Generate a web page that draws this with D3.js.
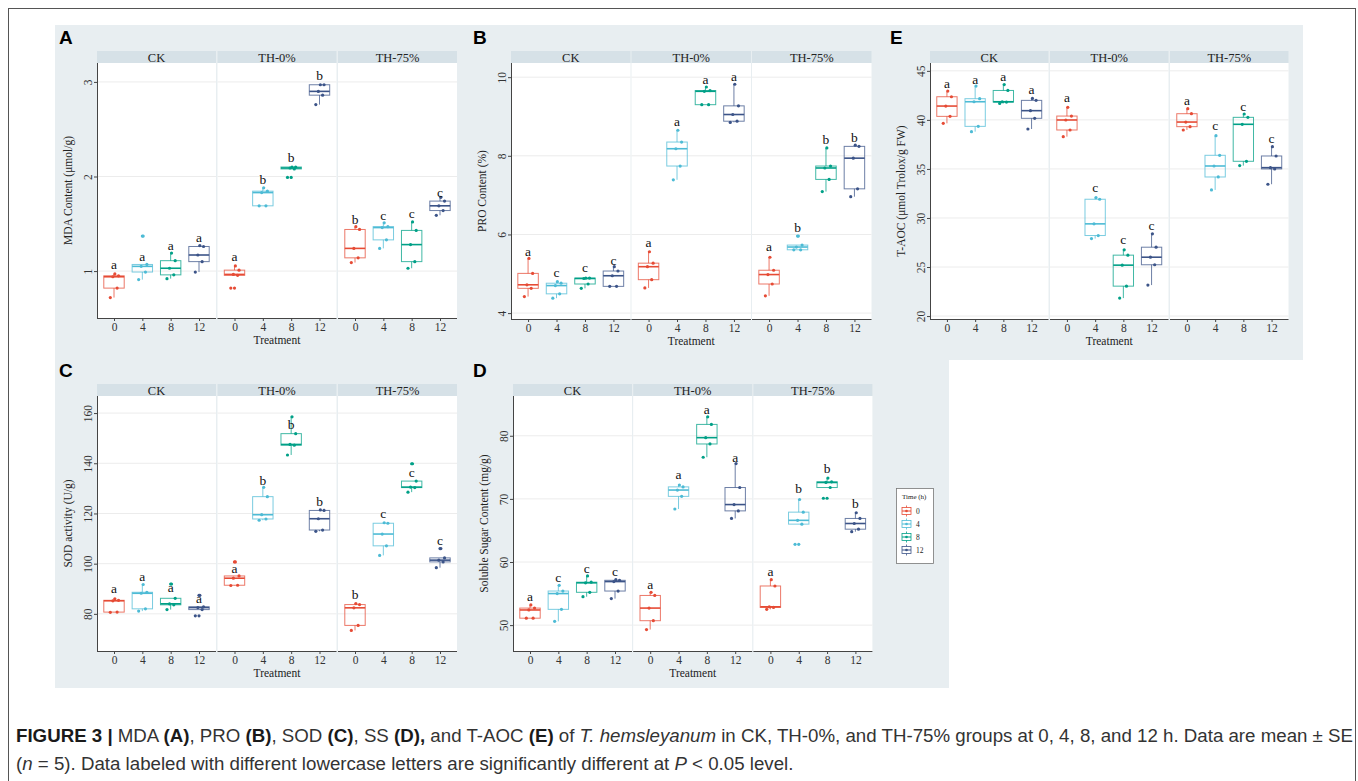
<!DOCTYPE html>
<html>
<head>
<meta charset="utf-8">
<script src="https://cdn.jsdelivr.net/npm/d3@7"></script>
<style>
  body { margin: 0; background: #fff; }
  svg { display: block; }
</style>
</head>
<body>
<svg id="fig" width="1358" height="781"></svg>
<script>
// ── data ─────────────────────────────────────────────────────────────────
const groups = ["CK", "TH-0%", "TH-75%"];
const times = ["0", "4", "8", "12"];
const timeColors = ["#E64B35", "#4DBBD5", "#00A087", "#3C5488"];

// five replicates per [group][time]
const mdaValues = [
    [[0.72, 0.82, 0.94, 0.95, 0.97], [0.91, 0.99, 1.05, 1.07, 1.37], [0.92, 0.96, 1.03, 1.11, 1.19], [0.99, 1.10, 1.17, 1.26, 1.27]],
    [[0.82, 0.955, 0.965, 1.01, 1.055], [1.69, 1.69, 1.83, 1.845, 1.88], [1.99, 2.08, 2.09, 2.10, 2.10], [2.76, 2.86, 2.90, 2.97, 2.97]],
    [[1.09, 1.14, 1.24, 1.44, 1.47], [1.24, 1.33, 1.46, 1.47, 1.51], [1.03, 1.10, 1.28, 1.43, 1.52], [1.59, 1.64, 1.69, 1.74, 1.78]]
];
const mdaLetters = [["a", "a", "a", "a"], ["a", "b", "b", "b"], ["b", "c", "c", "c"]];
const mdaLetterAt = [[1.05, 1.14, 1.25, 1.34], [1.14, 1.95, 2.18, 3.05], [1.53, 1.57, 1.59, 1.82]];
const mdaTicks = [1, 2, 3];

const proValues = [
    [[4.42, 4.63, 4.72, 5.01, 5.39], [4.38, 4.49, 4.70, 4.76, 4.80], [4.63, 4.74, 4.88, 4.89, 4.89], [4.68, 4.68, 4.95, 5.07, 5.18]],
    [[4.64, 4.85, 5.18, 5.27, 5.56], [7.39, 7.74, 8.18, 8.35, 8.65], [9.30, 9.30, 9.64, 9.66, 9.75], [8.85, 8.88, 9.05, 9.27, 9.82]],
    [[4.44, 4.74, 4.98, 5.09, 5.42], [5.61, 5.61, 5.68, 5.73, 5.96], [7.09, 7.40, 7.69, 7.74, 8.20], [6.96, 7.16, 7.94, 8.24, 8.27]]
];
const proLetters = [["a", "c", "c", "c"], ["a", "a", "a", "a"], ["a", "b", "b", "b"]];
const proLetterAt = [[5.54, 5.00, 5.12, 5.31], [5.76, 8.84, 9.90, 9.98], [5.65, 6.13, 8.38, 8.42]];
const proTicks = [4, 6, 8, 10];

const taocValues = [
    [[39.65, 40.36, 41.41, 42.36, 42.94], [38.80, 39.34, 41.85, 42.16, 43.45], [41.68, 41.82, 41.85, 43.0, 43.6], [39.07, 40.16, 40.94, 41.99, 42.19]],
    [[38.29, 38.97, 39.99, 40.39, 41.28], [27.9, 28.21, 29.40, 31.91, 32.08], [21.83, 23.05, 25.19, 26.21, 26.75], [23.16, 25.23, 26.0, 27.02, 28.38]],
    [[38.97, 39.31, 39.78, 40.63, 41.14], [32.86, 34.18, 35.3, 36.39, 38.39], [35.34, 35.78, 39.55, 40.26, 40.6], [33.44, 35.0, 35.13, 36.32, 37.27]]
];
const taocLetters = [["a", "a", "a", "a"], ["a", "c", "c", "c"], ["a", "c", "c", "c"]];
const taocLetterAt = [[43.55, 43.96, 44.23, 42.94], [42.12, 32.93, 27.63, 29.13], [41.85, 39.24, 41.24, 37.95]];
const taocTicks = [20, 25, 30, 35, 40, 45];

const sodValues = [
    [[80.6, 80.7, 85.2, 85.4, 86.0], [81.1, 82.0, 88.2, 88.6, 91.7], [81.7, 83.6, 84.0, 86.2, 91.9], [79.2, 81.7, 82.5, 82.8, 87.4]],
    [[91.3, 91.4, 94.2, 95.1, 100.7], [117.3, 117.8, 119.5, 126.7, 130.4], [143.3, 147.2, 147.5, 151.8, 158.5], [112.9, 113.4, 117.9, 121.2, 121.4]],
    [[73.4, 75.4, 82.4, 83.7, 84.1], [103.3, 107.1, 111.8, 116.1, 116.3], [128.5, 130.3, 130.5, 132.9, 139.8], [98.4, 100.7, 101.4, 102.3, 106.0]]
];
const sodLetters = [["a", "a", "a", "a"], ["a", "b", "b", "b"], ["b", "c", "c", "c"]];
const sodLetterAt = [[89.4, 94.1, 89.9, 85.4], [97.6, 132.4, 154.9, 124.0], [87.3, 119.3, 135.8, 108.5]];
const sodTicks = [80, 100, 120, 140, 160];

const ssValues = [
    [[51.1, 51.1, 52.4, 52.7, 53.2], [50.6, 52.5, 55.0, 55.4, 56.3], [54.5, 55.2, 56.7, 56.8, 57.8], [54.2, 55.4, 56.9, 57.1, 57.2]],
    [[49.3, 50.7, 52.7, 54.7, 55.2], [68.4, 70.4, 71.4, 71.9, 72.2], [76.6, 78.7, 79.7, 81.8, 83.0], [66.9, 68.1, 69.1, 71.8, 75.6]],
    [[52.5, 52.8, 52.9, 56.2, 57.2], [62.8, 66.0, 66.6, 67.9, 69.9], [70.1, 71.8, 72.6, 72.7, 73.3], [64.8, 65.2, 66.1, 66.9, 67.8]]
];
const ssLetters = [["a", "c", "c", "c"], ["a", "a", "a", "a"], ["a", "b", "b", "b"]];
const ssLetterAt = [[54.3, 57.3, 58.7, 58.2], [56.2, 73.7, 84.0, 76.3], [58.3, 71.4, 74.6, 69.0]];
const ssTicks = [50, 60, 70, 80];

// fixed horizontal jitter per replicate (fraction of category step)
const jitterOffsets = [-0.13, 0.11, -0.04, 0.16, 0.03];

// ── layout ───────────────────────────────────────────────────────────────
const serif = "'Liberation Serif', 'Times New Roman', serif";
const sans = "'Liberation Sans', Arial, Helvetica, sans-serif";
const bgCol = "#e8eef1";
const stripCol = "#d6e1e7";

const panels = [
    { tag: "A", values: mdaValues, letters: mdaLetters, letterAt: mdaLetterAt, ticks: mdaTicks, title: "MDA Content (\u03bcmol/g)",
      domain: [0.504, 3.2], x0: 97, w: 119, gap: 1.5, top: 51, bottom: 318, tagX: 59, tagY: 44 },
    { tag: "B", values: proValues, letters: proLetters, letterAt: proLetterAt, ticks: proTicks, title: "PRO Content (%)",
      domain: [3.85, 10.36], x0: 511, w: 119.5, gap: 1, top: 51, bottom: 319, tagX: 473, tagY: 44 },
    { tag: "E", values: taocValues, letters: taocLetters, letterAt: taocLetterAt, ticks: taocTicks, title: "T-AOC (\u03bcmol Trolox/g FW)",
      domain: [19.7, 45.8], x0: 930, w: 118.5, gap: 1.5, top: 51, bottom: 319, tagX: 890, tagY: 44 },
    { tag: "C", values: sodValues, letters: sodLetters, letterAt: sodLetterAt, ticks: sodTicks, title: "SOD activity (U/g)",
      domain: [65.2, 166.8], x0: 97, w: 119, gap: 1.5, top: 384, bottom: 651, tagX: 59, tagY: 377 },
    { tag: "D", values: ssValues, letters: ssLetters, letterAt: ssLetterAt, ticks: ssTicks, title: "Soluble Sugar Content (mg/g)",
      domain: [45.9, 86.3], x0: 513, w: 119, gap: 1.2, top: 384, bottom: 651, tagX: 473, tagY: 377 }
];

const svg = d3.select("#fig");

// outer frame
svg.append("rect")
    .attr("x", 8.5).attr("y", 8.5)
    .attr("width", 1347).attr("height", 800)
    .attr("fill", "#fff")
    .attr("stroke", "#555").attr("stroke-width", 1);

// panel backgrounds
svg.append("rect").attr("x", 55).attr("y", 25).attr("width", 894).attr("height", 663).attr("fill", bgCol);
svg.append("rect").attr("x", 883).attr("y", 25).attr("width", 420).attr("height", 335).attr("fill", bgCol);

// ── helpers ──────────────────────────────────────────────────────────────
function boxStats(vals) {
    const s = vals.slice().sort(d3.ascending);
    const q1 = d3.quantile(s, 0.25), med = d3.quantile(s, 0.5), q3 = d3.quantile(s, 0.75);
    const iqr = q3 - q1;
    const lo = d3.min(s.filter(v => v >= q1 - 1.5 * iqr));
    const hi = d3.max(s.filter(v => v <= q3 + 1.5 * iqr));
    const outliers = s.filter(v => v < lo || v > hi);
    return { q1, med, q3, lo, hi, outliers };
}

function drawPanel(p) {
    const stripH = 12;
    const plotTop = p.top + stripH;
    const y = d3.scaleLinear().domain(p.domain).range([p.bottom, plotTop]);

    const root = svg.append("g");

    // tag letter
    root.append("text")
        .attr("x", p.tagX).attr("y", p.tagY)
        .attr("font-family", sans).attr("font-weight", "bold").attr("font-size", 19)
        .attr("fill", "#000")
        .text(p.tag);

    groups.forEach((grp, gi) => {
        const fx = p.x0 + gi * (p.w + p.gap);
        const x = d3.scalePoint().domain(times).range([0, p.w]).padding(0.6);
        const step = x.step();
        const g = root.append("g").attr("transform", `translate(${fx},0)`);

        // strip
        g.append("rect")
            .attr("x", 0).attr("y", p.top).attr("width", p.w).attr("height", stripH)
            .attr("fill", stripCol);
        g.append("text")
            .attr("x", p.w / 2).attr("y", p.top + stripH - 1.5)
            .attr("text-anchor", "middle")
            .attr("font-family", serif).attr("font-size", 12.5).attr("fill", "#222")
            .text(grp);

        // plot area
        g.append("rect")
            .attr("x", 0).attr("y", plotTop).attr("width", p.w).attr("height", p.bottom - plotTop)
            .attr("fill", "#fff");

        g.selectAll(".grid")
            .data(p.ticks)
            .join("line")
            .attr("class", "grid")
            .attr("x1", 0).attr("x2", p.w)
            .attr("y1", d => y(d)).attr("y2", d => y(d))
            .attr("stroke", "#ececec").attr("stroke-width", 1);

        // boxes
        times.forEach((t, ti) => {
            const vals = p.values[gi][ti];
            const st = boxStats(vals);
            const cx = x(t);
            const bw = step * 0.72;
            const col = timeColors[ti];
            const bg = g.append("g");

            bg.append("line")
                .attr("x1", cx).attr("x2", cx)
                .attr("y1", y(st.q3)).attr("y2", y(st.hi))
                .attr("stroke", col).attr("stroke-opacity", 0.75).attr("stroke-width", 1);
            bg.append("line")
                .attr("x1", cx).attr("x2", cx)
                .attr("y1", y(st.q1)).attr("y2", y(st.lo))
                .attr("stroke", col).attr("stroke-opacity", 0.75).attr("stroke-width", 1);
            bg.append("rect")
                .attr("x", cx - bw / 2).attr("y", y(st.q3))
                .attr("width", bw).attr("height", Math.max(0.5, y(st.q1) - y(st.q3)))
                .attr("fill", "none")
                .attr("stroke", col).attr("stroke-opacity", 0.75).attr("stroke-width", 1);
            bg.append("line")
                .attr("x1", cx - bw / 2).attr("x2", cx + bw / 2)
                .attr("y1", y(st.med)).attr("y2", y(st.med))
                .attr("stroke", col).attr("stroke-width", 1.6);

            bg.selectAll(".out")
                .data(st.outliers)
                .join("circle")
                .attr("class", "out")
                .attr("cx", cx).attr("cy", d => y(d)).attr("r", 1.6)
                .attr("fill", col);

            bg.selectAll(".pt")
                .data(vals)
                .join("circle")
                .attr("class", "pt")
                .attr("cx", (d, i) => cx + jitterOffsets[i % jitterOffsets.length] * step)
                .attr("cy", d => y(d))
                .attr("r", 1.6)
                .attr("fill", col);

            // significance letter, centred on its read-off value
            bg.append("text")
                .attr("x", cx).attr("y", y(p.letterAt[gi][ti]) + 3)
                .attr("text-anchor", "middle")
                .attr("font-family", serif).attr("font-size", 13.5).attr("fill", "#111")
                .text(p.letters[gi][ti]);
        });

        // x axis
        const xa = g.append("g")
            .attr("transform", `translate(0,${p.bottom})`)
            .call(d3.axisBottom(x).tickSize(3).tickSizeOuter(0).tickPadding(2));
        xa.select(".domain").attr("stroke", "#444").attr("d", `M0,0.5H${p.w}`);
        xa.selectAll("line").attr("stroke", "#444");
        xa.selectAll("text")
            .attr("font-family", serif).attr("font-size", 11.5).attr("fill", "#333");

        // y axis on first facet only
        if (gi === 0) {
            const ya = g.append("g")
                .call(d3.axisLeft(y).tickValues(p.ticks).tickSize(3).tickSizeOuter(0).tickFormat(d3.format("d")));
            ya.select(".domain").attr("stroke", "#444").attr("d", `M0.5,${plotTop}V${p.bottom}`);
            ya.selectAll("line").attr("stroke", "#444");
            ya.selectAll("text")
                .attr("font-family", serif).attr("font-size", 11.5).attr("fill", "#333")
                .attr("text-anchor", "middle")
                .attr("dy", null)
                .attr("x", null)
                .attr("transform", "translate(-5,0) rotate(-90)");

            g.append("text")
                .attr("transform", `translate(-25,${(plotTop + p.bottom) / 2}) rotate(-90)`)
                .attr("text-anchor", "middle")
                .attr("font-family", serif).attr("font-size", 11.5).attr("fill", "#222")
                .text(p.title);
        }

        if (gi === 1) {
            g.append("text")
                .attr("x", p.w / 2).attr("y", p.bottom + 26)
                .attr("text-anchor", "middle")
                .attr("font-family", serif).attr("font-size", 11.5).attr("fill", "#222")
                .text("Treatment");
        }
    });
}

panels.forEach(drawPanel);

// ── legend ───────────────────────────────────────────────────────────────
const leg = svg.append("g").attr("transform", "translate(896,488)");
leg.append("rect")
    .attr("x", 0.5).attr("y", 0.5).attr("width", 37).attr("height", 75)
    .attr("fill", "#fff").attr("stroke", "#777").attr("stroke-width", 0.8);
leg.append("text")
    .attr("x", 6).attr("y", 11)
    .attr("font-family", serif).attr("font-size", 7).attr("fill", "#222")
    .text("Time (h)");
times.forEach((t, i) => {
    const ky = 23 + i * 13;
    const k = leg.append("g").attr("transform", `translate(5,${ky})`);
    const col = timeColors[i];
    k.append("line").attr("x1", 5.5).attr("x2", 5.5).attr("y1", -5.5).attr("y2", 5.5)
        .attr("stroke", col).attr("stroke-width", 0.8);
    k.append("rect").attr("x", 1).attr("y", -3.5).attr("width", 9).attr("height", 7)
        .attr("fill", "#fff").attr("stroke", col).attr("stroke-width", 0.8);
    k.append("line").attr("x1", 1).attr("x2", 10).attr("y1", 0).attr("y2", 0)
        .attr("stroke", col).attr("stroke-width", 1);
    k.append("circle").attr("cx", 5.5).attr("cy", 0).attr("r", 1.3).attr("fill", col);
    leg.append("text")
        .attr("x", 20).attr("y", ky + 2.5)
        .attr("font-family", serif).attr("font-size", 7.5).attr("fill", "#222")
        .text(t);
});

// ── caption ──────────────────────────────────────────────────────────────
const line1 = [
    ["FIGURE 3 | ", "bold", "normal"], ["MDA ", "normal", "normal"], ["(A)", "bold", "normal"],
    [", PRO ", "normal", "normal"], ["(B)", "bold", "normal"], [", SOD ", "normal", "normal"],
    ["(C)", "bold", "normal"], [", SS ", "normal", "normal"], ["(D),", "bold", "normal"],
    [" and T-AOC ", "normal", "normal"], ["(E)", "bold", "normal"], [" of ", "normal", "normal"],
    ["T. hemsleyanum", "normal", "italic"],
    [" in CK, TH-0%, and TH-75% groups at 0, 4, 8, and 12 h. Data are mean \u00b1 SE", "normal", "normal"]
];
const line2 = [
    ["(", "normal", "normal"], ["n", "normal", "italic"],
    [" = 5). Data labeled with different lowercase letters are significantly different at ", "normal", "normal"],
    ["P", "normal", "italic"], [" < 0.05 level.", "normal", "normal"]
];

function captionLine(parts, yPos, fs) {
    const t = svg.append("text")
        .attr("x", 16).attr("y", yPos)
        .attr("font-family", sans).attr("font-size", fs).attr("fill", "#333");
    parts.forEach(([txt, fw, fst]) => {
        t.append("tspan")
            .attr("font-weight", fw).attr("font-style", fst)
            .attr("fill", fw === "bold" ? "#1a1a1a" : "#333")
            .text(txt);
    });
    return t;
}

let capFs = 15;
const probe = captionLine(line1, 742, capFs);
const len = probe.node().getComputedTextLength();
capFs = capFs * 1338 / len;
probe.attr("font-size", capFs);
captionLine(line2, 770, capFs);
</script>
</body>
</html>
